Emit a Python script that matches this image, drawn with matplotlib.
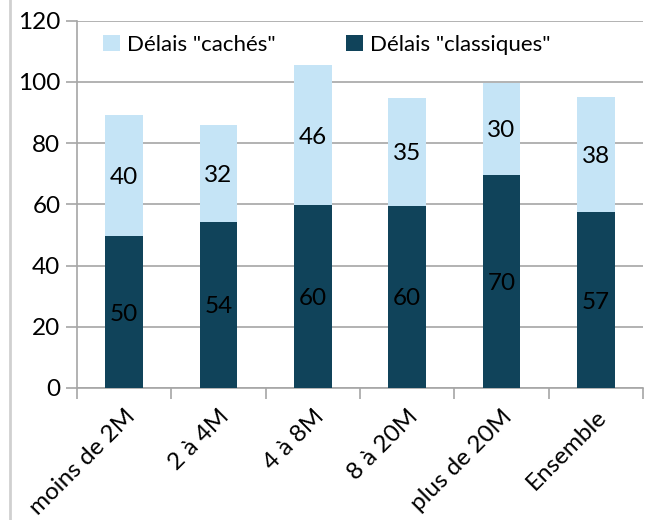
import matplotlib
matplotlib.use("Agg")
import matplotlib.pyplot as plt
from matplotlib.lines import Line2D
import numpy as np

categories = ["moins de 2M", "2 à 4M", "4 à 8M", "8 à 20M", "plus de 20M", "Ensemble"]
classiques = [49.6, 54.3, 59.8, 59.6, 69.6, 57.4]
caches = [39.6, 31.6, 45.6, 35.2, 30.1, 37.8]

dark = "#10435a"
light = "#c5e4f6"
grid = "#a6a6a6"

plt.rcParams["font.family"] = ["Lato", "DejaVu Sans"]

fig = plt.figure(figsize=(6.48, 5.2), dpi=100)
ax = fig.add_axes([0.119, 0.254, 0.873, 0.706])

x = np.arange(len(categories))
b1 = ax.bar(x, classiques, width=0.4, color=dark, label='Délais "classiques"', zorder=3)
b2 = ax.bar(x, caches, width=0.4, bottom=classiques, color=light,
            label='Délais "cachés"', zorder=3)

for i in range(len(categories)):
    ax.text(x[i], classiques[i] / 2, "%.0f" % classiques[i], ha="center", va="center_baseline",
            fontsize=17.5, color="black", zorder=4)
    ax.text(x[i], classiques[i] + caches[i] / 2, "%.0f" % caches[i], ha="center",
            va="center_baseline", fontsize=17.5, color="black", zorder=4)

ax.set_xlim(-0.5, len(categories) - 0.5)
ax.set_ylim(0, 120)
ax.set_yticks(range(0, 121, 20))
ax.yaxis.grid(True, color=grid, linewidth=1.2, zorder=0)
ax.tick_params(axis="y", length=8, color=grid, width=1.2, labelsize=17.5, pad=4)

ax.set_xticks(x)
ax.set_xticklabels(categories, rotation=45, ha="right", rotation_mode="anchor", fontsize=17.5)
ax.tick_params(axis="x", length=0, pad=13)
ax.set_xticks(np.arange(-0.5, len(categories)), minor=True)
ax.tick_params(axis="x", which="minor", length=8, color=grid, width=1.2)

for s in ["top", "right"]:
    ax.spines[s].set_visible(False)
for s in ["left", "bottom"]:
    ax.spines[s].set_color(grid)
    ax.spines[s].set_linewidth(1.2)

ax.legend(handles=[b2, b1], loc="upper left", ncol=2, frameon=False, fontsize=16,
          handlelength=0.75, handleheight=0.75, handletextpad=0.3, columnspacing=3.2,
          bbox_to_anchor=(0.015, 1.01), borderaxespad=0.4)

fig.add_artist(Line2D([10 / 648, 10 / 648], [0, 1], color="#d0d0d0", linewidth=2,
                      transform=fig.transFigure))

fig.savefig("out.png", dpi=100)
